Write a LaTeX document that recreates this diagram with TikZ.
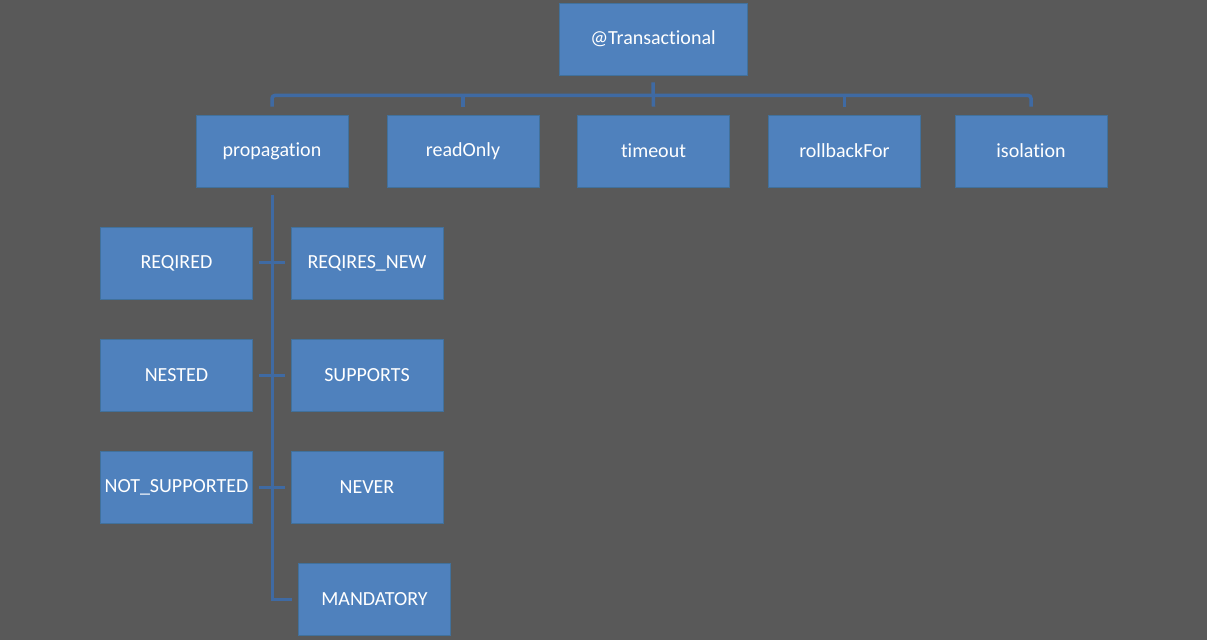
\documentclass[tikz,border=0pt]{standalone}
\usepackage{fontspec}
\setmainfont[Ligatures=NoCommon]{Carlito}
\definecolor{bgc}{HTML}{595959}
\definecolor{boxc}{HTML}{4F81BD}
\definecolor{boxb}{HTML}{41719C}
\definecolor{connc}{HTML}{3F6AA3}
\tikzset{
  box/.style={rectangle, fill=boxc, draw=boxb, line width=0.8pt, minimum width=152pt, minimum height=72pt, inner sep=0pt, text=white, font=\fontsize{20}{24}\selectfont},
  conn/.style={draw=connc, line width=3.5pt}
}
\begin{document}
\begin{tikzpicture}[x=1pt,y=-1pt]
\useasboundingbox (0,0) rectangle (1212,644);
\fill[white] (0,0) rectangle (1212,644);
\fill[bgc] (0,0) rectangle (1207,640);
\node[box, minimum width=188pt] (T) at (653,39) {@Transactional};
\node[box] (prop) at (272,151) {propagation};
\node[box] (ro) at (463,151) {readOnly};
\node[box] (to) at (653.5,151) {timeout};
\node[box] (rb) at (844.5,151) {rollbackFor};
\node[box] (iso) at (1031,151) {isolation};
\node[box] (req) at (176.5,263) {REQIRED};
\node[box] (rn) at (367,263) {REQIRES\_NEW};
\node[box] (nes) at (176.5,375) {NESTED};
\node[box] (sup) at (367,375) {SUPPORTS};
\node[box] (ns) at (176.5,487) {NOT\_SUPPORTED};
\node[box] (nev) at (367,487) {NEVER};
\node[box] (man) at (374.5,599) {MANDATORY};
% top tree
\draw[conn, rounded corners=3pt] ([yshift=8pt]prop.north) |- ([yshift=-20pt]T.south) -| ([yshift=8pt]iso.north);
\draw[conn] ([yshift=-7pt]T.south) -- ([yshift=8pt]to.north);
\draw[conn] ([yshift=8pt]ro.north) -- ([yshift=20pt]ro.north);
\draw[conn] ([yshift=8pt]rb.north) -- ([yshift=20pt]rb.north);
% propagation trunk
\draw[conn, line width=3pt] ([yshift=-8pt]prop.south) |- ([xshift=-6pt]man.west);
\draw[conn, line width=3pt] ([xshift=6pt]req.east) -- ([xshift=-6pt]rn.west);
\draw[conn, line width=3pt] ([xshift=6pt]nes.east) -- ([xshift=-6pt]sup.west);
\draw[conn, line width=3pt] ([xshift=6pt]ns.east) -- ([xshift=-6pt]nev.west);
\end{tikzpicture}
\end{document}
